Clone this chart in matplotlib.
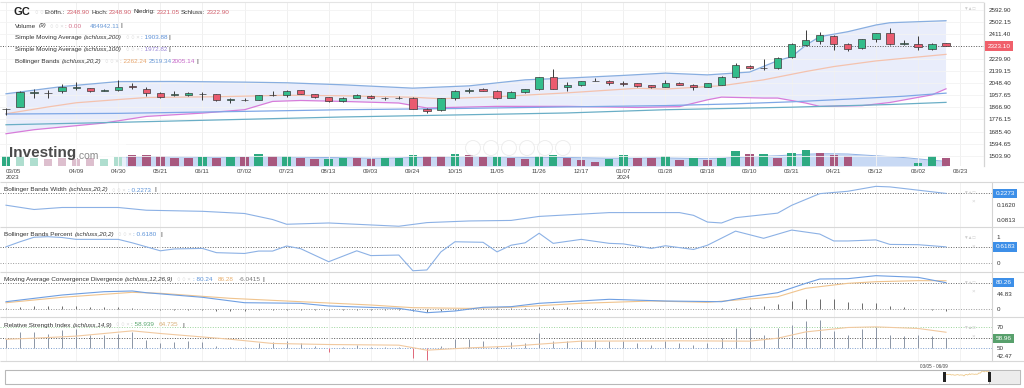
import numpy as np
import matplotlib
matplotlib.use("Agg")
import matplotlib.pyplot as plt
from matplotlib.patches import Rectangle, Circle

plt.rcParams["font.family"] = ["Liberation Sans", "DejaVu Sans"]

# ---- weekly GC candles, 03/05/2023 .. 06/16/2024 ----
opens = [1856, 1870, 1975, 1973, 1987, 2010, 2008, 1992, 1993, 2025,
         2003, 1977, 1960, 1960, 1970, 1965, 1922, 1923, 1925, 1958,
         1960, 1993, 1966, 1942, 1912, 1940, 1955, 1935, 1938, 1940,
         1857, 1845, 1936, 1992, 2005, 1992, 1938, 1980, 2000, 2090,
         2020, 2030, 2062, 2065, 2045, 2045, 2030, 2020, 2050, 2035,
         2022, 2035, 2090, 2178, 2158, 2160, 2240, 2335, 2365, 2400,
         2340, 2310, 2375, 2425, 2340, 2340, 2305, 2348.9]
closes = [1858, 1978, 1978, 1973, 2022, 2015, 1985, 1995, 2020, 2020,
          1975, 1942, 1966, 1975, 1968, 1920, 1928, 1925, 1958, 1962,
          1990, 1970, 1945, 1912, 1938, 1962, 1938, 1938, 1940, 1858,
          1840, 1935, 1990, 1995, 1992, 1935, 1980, 2000, 2090, 2005,
          2030, 2060, 2065, 2045, 2042, 2025, 2015, 2050, 2035, 2020,
          2045, 2090, 2180, 2160, 2160, 2235, 2340, 2372, 2408, 2340,
          2305, 2375, 2420, 2338, 2345, 2318, 2342, 2322.9]
highs = [1862, 1985, 2000, 1993, 2042, 2055, 2012, 2005, 2068, 2045,
         2018, 1982, 1985, 1980, 1982, 1968, 1935, 1935, 1962, 1985,
         1995, 1997, 1968, 1945, 1945, 1965, 1958, 1945, 1952, 1942,
         1860, 1940, 1995, 2010, 2012, 1995, 1985, 2005, 2095, 2150,
         2055, 2065, 2085, 2070, 2065, 2050, 2035, 2068, 2055, 2040,
         2050, 2098, 2195, 2185, 2225, 2245, 2345, 2440, 2430, 2405,
         2345, 2380, 2425, 2455, 2370, 2400, 2345, 2348.9]
lows = [1812, 1868, 1940, 1938, 1975, 1995, 1980, 1985, 1985, 2005,
        1955, 1935, 1950, 1955, 1925, 1915, 1902, 1912, 1922, 1955,
        1945, 1965, 1940, 1905, 1908, 1935, 1932, 1925, 1930, 1855,
        1825, 1840, 1920, 1975, 1988, 1930, 1935, 1975, 1995, 2000,
        1985, 2025, 2060, 2035, 2025, 2015, 2010, 2015, 2030, 1995,
        2015, 2030, 2085, 2150, 2148, 2155, 2235, 2325, 2340, 2295,
        2285, 2305, 2355, 2335, 2335, 2295, 2295, 2321.05]

# volume in thousands (weeks 05/05-05/26 have no bar)
volume = [450, 450, 360, 315, 360, 315, 360, 315, 405, 480,
          480, 450, 375, 375, 420, 375, 420, 420, 525, 450,
          450, 375, 330, 330, 345, 375, 300, 375, 375, 480,
          450, 450, 525, 480, 420, 420, 375, 330, 450, 480,
          375, 270, 180, 300, 480, 375, 375, 450, 270, 375,
          270, 375, 675, 525, 525, 345, 570, 705, 600, 480,
          450, 0, 0, 0, 0, 150, 450, 375]
# bar colour (1 = green, 0 = purple)
volume_up = [1, 1, 1, 0, 0, 0, 0, 1, 1, 0,
             0, 0, 0, 0, 1, 0, 1, 0, 1, 0,
             1, 0, 0, 1, 1, 0, 0, 1, 1, 1,
             0, 0, 1, 0, 0, 1, 0, 0, 1, 1,
             0, 0, 0, 1, 1, 0, 0, 1, 0, 1,
             0, 1, 1, 0, 1, 0, 1, 1, 0, 0,
             0, 1, 1, 1, 1, 1, 1, 0]
vol_sma_start = 8
vol_sma = [380, 400, 410, 420, 420, 410, 400, 400, 400, 410,
           420, 420, 410, 400, 390, 380, 370, 360, 350, 350,
           360, 380, 390, 400, 410, 420, 420, 410, 400, 390,
           390, 390, 380, 370, 360, 350, 350, 350, 360, 360,
           350, 340, 340, 350, 380, 410, 440, 460, 500, 530,
           550, 550, 540, 500, 460, 420, 380, 320, 260, 210]

# overlays (week index, value)
bb_up_idx = [0, 4, 8, 12, 17, 20, 24, 29, 33, 37, 40, 44, 47, 50, 53, 55, 56, 57, 58, 60, 62, 63, 67]
bb_up = [1968, 2022, 2059, 2060, 2055, 2050, 2035, 2010, 2027, 2072, 2085, 2105, 2122, 2109,
         2130, 2215, 2245, 2330, 2394, 2431, 2481, 2498, 2513]
bb_low_idx = [0, 2, 7, 10, 14, 17, 19, 21, 24, 28, 30, 35, 40, 45, 48, 50, 51, 54, 55, 57, 58, 61, 63, 66, 67]
bb_low = [1670, 1700, 1750, 1799, 1824, 1849, 1911, 1918, 1911, 1899, 1862, 1874, 1874, 1866,
          1872, 1923, 1943, 1936, 1936, 1899, 1874, 1879, 1903, 1960, 2005]
bb_mid_idx = [0, 3, 5, 8, 10, 15, 20, 24, 29, 31, 35, 40, 45, 47, 51, 54, 57, 59, 62, 67]
bb_mid = [1819, 1870, 1901, 1925, 1940, 1946, 1957, 1953, 1942, 1931, 1946, 1975, 2009, 2003,
          2028, 2072, 2134, 2171, 2213, 2262]
sma100_idx = [0, 8, 16, 24, 32, 40, 47, 52, 56, 60, 64, 67]
sma100 = [1817, 1822, 1835, 1849, 1858, 1870, 1880, 1893, 1908, 1928, 1950, 1972.8]
sma200_idx = [0, 8, 16, 24, 32, 40, 47, 56, 63, 67]
sma200 = [1737, 1755, 1775, 1795, 1810, 1825, 1849, 1868, 1888, 1903.9]

bbw_idx = [0, 2, 4, 8, 10, 14, 17, 19, 20, 23, 28, 30, 33, 36, 38, 43, 48, 49, 50, 51, 52, 55,
           56, 58, 60, 62, 63, 67]
bbw = [0.1625, 0.139, 0.150, 0.150, 0.135, 0.129, 0.117, 0.084, 0.058, 0.065, 0.047, 0.067,
       0.076, 0.079, 0.101, 0.122, 0.122, 0.107, 0.070, 0.065, 0.094, 0.119, 0.162, 0.226,
       0.239, 0.266, 0.263, 0.2273]

bbp_idx = [0, 1, 2, 3, 4, 5, 6, 8, 9, 11, 12, 14, 15, 17, 18, 19, 20, 21, 23, 25,
           26, 28, 29, 30, 31, 32, 34, 35, 36, 37, 38, 39, 41, 43, 44, 46, 47, 49, 50, 52,
           54, 56, 58, 59, 60, 62, 63, 65, 66, 67]
bbp = [0.62, 0.81, 0.98, 1.0, 0.97, 0.90, 0.90, 0.90, 0.77, 0.47,
       0.54, 0.56, 0.40, 0.37, 0.46, 0.46, 0.65, 0.55, 0.06, 0.47,
       0.29, 0.31, -0.28, -0.25, 0.43, 0.81, 0.79, 0.43, 0.68, 0.77,
       1.13, 0.75, 0.90, 0.75, 0.73, 0.56, 0.66, 0.52, 0.68, 1.21,
       0.94, 1.25, 1.10, 0.84, 0.84, 0.88, 0.71, 0.70, 0.66, 0.618]

macd_idx = [0, 4, 7, 9, 10, 14, 17, 21, 23, 28, 30, 32, 34, 36, 38, 43, 47, 51, 53, 55, 57, 58,
            60, 62, 65, 67]
macd = [22.3, 42.7, 52.8, 55.0, 49.7, 35.7, 19.2, 17.4, 9.2, 2.0, -11.3, -6.1, 5.2, 7.1, 17.4,
        29.6, 24.4, 22.3, 37.5, 49.7, 78.3, 91.5, 92.5, 101.7, 96.6, 80.24]
signal_idx = [0, 4, 9, 11, 16, 21, 26, 29, 33, 36, 41, 46, 50, 55, 57, 60, 62, 65, 67]
signal = [19.2, 35.7, 50.9, 47.9, 32.6, 22.3, 12.2, 4.0, 2.0, 5.2, 17.4, 24.4, 20.4, 37.5,
          63.1, 78.3, 83.3, 86.5, 86.28]
macd_hist = [3, 6, 8, 8, 9, 8, 6, 5, 5, 3, 1, -2, -3, -4, -4, -5, -5, -5, -4, -3,
             -2, -2, -3, -4, -4, -3, -3, -3, -3, -6, -9, -7, -3, 1, 3, 3, 2, 3, 5, 6,
             5, 4, 4, 3, 2, 1, 1, 0, -1, -1, 1, 2, 4, 5, 8, 15, 23, 31, 31, 30,
             20, 18, 18, 8, 5, 1, -2, -6]

rsi = [58, 65, 65, 63, 67, 68, 62, 62, 63, 65,
       57, 54, 55, 56, 55, 52, 51, 51, 54.5, 55,
       56, 54.5, 52, 46, 51, 53, 51, 50.5, 51, 39.7,
       38, 52, 58.7, 58.7, 56, 52, 55, 54.7, 64, 56,
       56, 57.6, 57.6, 56, 56, 54.7, 53, 56, 54.7, 53,
       54.7, 59, 68.3, 68.3, 62, 68.3, 72, 75, 76, 66,
       62, 68, 70, 62, 61, 62, 61, 58.96]
rsi_ma_idx = [0, 2, 5, 9, 11, 16, 19, 23, 28, 30, 33, 36, 41, 48, 53, 55, 57, 60, 62, 65, 67]
rsi_ma = [58, 59, 61, 66, 63.5, 58, 54, 53, 52.4, 47.6, 49.8, 51.4, 56.2, 56.5, 56.2, 59, 65,
          69.2, 69.8, 68.3, 64.7]

date_idx = [0, 5] + list(range(8, 69, 3))
date_labels = ["03/05\n2023", "04/09", "04/30", "05/21", "06/11", "07/02", "07/23", "08/13",
               "09/03", "09/24", "10/15", "11/05", "11/26", "12/17", "01/07\n2024", "01/28",
               "02/18", "03/10", "03/31", "04/21", "05/12", "06/02", "06/23"]
price_ticks = [2592.90, 2502.15, 2411.40, 2229.90, 2139.15, 2048.40, 1957.65, 1866.90,
               1776.15, 1685.40, 1594.65, 1503.90]
last_price = 2323.10

W, H = 1024, 388
STEP = 14.03   # px per week
X0 = 6         # px of first candle

GREEN, RED = "#33bd8b", "#ea5b6f"
VGREEN, VRED = "#2eaa82", "#a8587f"
FS = 4.6


def px_rect(x0, y0, x1, y1):
    return [x0 / W, 1 - y1 / H, (x1 - x0) / W, (y1 - y0) / H]


fig = plt.figure(figsize=(W / 100, H / 100), dpi=100)


def panel(x1, y0, y1, ylim, face="white"):
    ax = fig.add_axes(px_rect(0, y0, x1, y1), facecolor=face)
    ax.set_xlim(-X0 / STEP, (x1 - X0) / STEP)
    ax.set_ylim(*ylim)
    for s in ax.spines.values():
        s.set_visible(False)
    ax.spines["right"].set_visible(True)
    ax.spines["right"].set_color("#d4d4d4")
    ax.spines["right"].set_linewidth(0.8)
    ax.set_xticks(date_idx)
    ax.tick_params(axis="x", length=0, labelbottom=False)
    ax.grid(axis="x", color="#f0f0f0", lw=0.6)
    ax.yaxis.tick_right()
    ax.tick_params(axis="y", length=0, pad=3.5, labelsize=4.5, labelcolor="#333")
    return ax


def dotted(ax, y, color="#666"):
    ax.axhline(y, color=color, lw=0.7, ls=(0, (1, 1.6)), zorder=1)


def value_box(ax, y, s, fc):
    ax.annotate(s, xy=(1, y), xycoords=("axes fraction", "data"), xytext=(2.5, 0),
                textcoords="offset points", ha="left", va="center", fontsize=4.6,
                color="white", bbox=dict(boxstyle="square,pad=0.35", fc=fc, ec="none"),
                annotation_clip=False, zorder=10)


x = np.arange(len(closes))
o, c = np.array(opens), np.array(closes)
up = c >= o

# ---- main price panel (volume behind) ----
ylim_main = (2592.9 - (166 - 10) * 7.459, 2592.9 + 7 * 7.459)
vax = panel(984, 3, 166, (0, 163 * 45))
vax.set_yticks([])
vax.fill_between(np.arange(vol_sma_start, len(closes)), vol_sma, color="#c8d9f4", lw=0, zorder=1)
vax.plot(np.arange(vol_sma_start, len(closes)), vol_sma, color="#8fb1e4", lw=0.7, zorder=1)
vax.bar(x, volume, width=0.6, color=np.where(np.array(volume_up) == 1, VGREEN, VRED), zorder=2)

ax = panel(984, 3, 166, ylim_main, face="none")
ax.set_yticks(price_ticks)
ax.set_yticklabels([f"{t:.2f}" for t in price_ticks])
ax.grid(axis="y", color="#f3f3f3", lw=0.6)
ax.set_xticklabels(date_labels)
ax.tick_params(axis="x", labelbottom=True, labelsize=4.4, labelcolor="#444", pad=2)
ax.get_xticklabels()[0].set_ha("left")

ax.fill(np.r_[bb_up_idx, bb_low_idx[::-1]], np.r_[bb_up, bb_low[::-1]], color="#e9edfb", lw=0, zorder=1)
ax.plot(bb_up_idx, bb_up, color="#88aee0", lw=0.9, zorder=2)
ax.plot(bb_low_idx, bb_low, color="#d77cda", lw=0.9, zorder=2)
ax.plot(bb_mid_idx, bb_mid, color="#f4c2ae", lw=0.9, zorder=2)
ax.plot(sma100_idx, sma100, color="#7ea7e6", lw=0.9, zorder=2)
ax.plot(sma200_idx, sma200, color="#6aaec6", lw=0.9, zorder=2)
dotted(ax, last_price, "#555")

ax.vlines(x, lows, highs, color="#3a3a3a", lw=0.7, zorder=3)
ax.bar(x, np.maximum(np.abs(c - o), 1.0), bottom=np.minimum(o, c), width=0.52,
       color=np.where(up, GREEN, RED), edgecolor="#3a3a3a", lw=0.5, zorder=4)
value_box(ax, last_price, "2323.10", "#f0606b")

# ---- Bollinger Bands Width ----
a1 = panel(992, 182, 227, (0.0429, 0.2899))
a1.set_yticks([0.1620, 0.0813])
a1.set_yticklabels(["0.1620", "0.0813"])
dotted(a1, 0.2273)
a1.plot(bbw_idx, bbw, color="#8cb1e5", lw=0.8)
value_box(a1, 0.2273, "0.2273", "#3d8fe8")

# ---- Bollinger Bands Percent ----
a2 = panel(992, 227, 272, (-0.327, 1.365))
a2.set_yticks([1, 0])
a2.set_yticklabels(["1", "0"])
dotted(a2, 0.618)
dotted(a2, 0, "#9a9a9a")
a2.plot(bbp_idx, bbp, color="#8cb1e5", lw=0.8)
value_box(a2, 0.6183, "0.6183", "#3d8fe8")

# ---- MACD ----
a3 = panel(992, 272, 317, (-24.4, 112.9))
a3.set_yticks([44.83, 0])
a3.set_yticklabels(["44.83", "0"])
dotted(a3, 80.26)
dotted(a3, 0, "#9a9a9a")
a3.vlines(x, 0, macd_hist, color="#6a6a6a", lw=0.7)
a3.plot(signal_idx, signal, color="#f0c48e", lw=0.8)
a3.plot(macd_idx, macd, color="#6f9fe2", lw=0.8)
value_box(a3, 80.26, "80.26", "#3d8fe8")

# ---- RSI ----
a4 = panel(992, 317, 361, (37.3, 79.2))
a4.set_yticks([70, 50, 42.47])
a4.set_yticklabels(["70", "50", "42.47"])
dotted(a4, 70, "#9bd39b")
dotted(a4, 58.96, "#555")
dotted(a4, 50, "#7d9fcf")
r = np.array(rsi)
a4.vlines(x, 50, r, color=np.where(r >= 50, "#8b95a5", "#e06679"), lw=0.7)
a4.plot(rsi_ma_idx, rsi_ma, color="#f1c9a0", lw=0.8)
value_box(a4, 58.96, "58.96", "#58a06c")

# ---- navigator ----
nav = fig.add_axes(px_rect(944, 370, 989, 384), facecolor="#fde3b2")
nav.fill_between(x, closes, 2600, color="white", lw=0)
nav.plot(x, closes, color="#eec98a", lw=0.6)
nav.set_xlim(0, len(closes) - 1)
nav.set_ylim(900, 2520)
nav.axis("off")

# ---- overlay in pixel coordinates ----
ov = fig.add_axes([0, 0, 1, 1], facecolor="none")
ov.set_xlim(0, W)
ov.set_ylim(H, 0)
ov.axis("off")

ov.hlines([182, 227, 272, 317, 361], 0, W, color="#d8d8d8", lw=0.8)
ov.hlines([2], 0, 984, color="#e4e4e4", lw=0.8)
ov.add_patch(Rectangle((5, 370), 1015, 14, fc="none", ec="#b8b8b8", lw=0.8))
ov.add_patch(Rectangle((989, 370), 31, 14, fc="#ececec", ec="#b8b8b8", lw=0.6))
for hx in (942.5, 987.5):
    ov.add_patch(Rectangle((hx, 372), 3, 10, fc="#222", ec="none"))
ov.text(934, 366.5, "03/05 - 06/09", fontsize=3.4, color="#444", ha="center", va="center")

# faded volume under logo
ov.add_patch(Rectangle((12, 140), 114, 27, fc="white", ec="none", alpha=0.62))
logo = ov.text(9, 153, "Investing", fontsize=11, weight="bold", color="#4b4b4b",
               ha="left", va="center")
ov.annotate(".com", xy=(1, 0.32), xycoords=logo, xytext=(0, 0), textcoords="offset points",
            fontsize=7.5, color="#8a8a8a", ha="left", va="center")
for cx in (473, 491, 509, 527, 545, 563):
    ov.add_patch(Circle((cx, 148), 7.5, fc="white", ec="#e6e6e6", lw=0.7, alpha=0.7))

ICON = dict(color="#d6d6d6", fontsize=4.2, gap=3)


def chain(x0, y, pieces):
    prev = None
    for s, kw in pieces:
        st = dict(fontsize=FS, color="#333")
        st.update(kw)
        gap = st.pop("gap", 1.0)
        if prev is None:
            prev = ov.text(x0, y, s, ha="left", va="center", **st)
        else:
            prev = ov.annotate(s, xy=(1, 0.5), xycoords=prev, xytext=(gap, 0),
                               textcoords="offset points", ha="left", va="center", **st)
    return prev


PR = dict(color="#d2606d")
IT = dict(style="italic", gap=1.5)
chain(14, 12, [("GC", dict(fontsize=8, weight="bold", color="#222")), ("\u25cb \u25cb", ICON),
               ("Eröffn.:", {}), ("2348.90", PR), ("Hoch:", {}), ("2348.90", PR),
               ("Niedrig:", {}), ("2321.05", PR), ("Schluss:", {}), ("2322.90", PR)])
chain(15, 26, [("Volume", {}), ("(9)", IT), ("\u25cb \u25cb \u00d7", ICON),
               (": 0.00", dict(color="#d4708a")), ("484942.11", dict(color="#6b9ad6", gap=6)),
               ("|", {})])
chain(15, 37.5, [("Simple Moving Average", {}), ("(schluss,200)", IT),
                 ("\u25cb \u25cb \u00d7", ICON), (": 1903.88", dict(color="#5b8fd6")), ("|", {})])
chain(15, 49.5, [("Simple Moving Average", {}), ("(schluss,100)", IT),
                 ("\u25cb \u25cb \u00d7", ICON), (": 1972.82", dict(color="#9a86d8")), ("|", {})])
chain(15, 61.5, [("Bollinger Bands", {}), ("(schluss,20,2)", IT), ("\u25cb \u25cb \u00d7", ICON),
                 (": 2262.24", dict(color="#e6a56c")), ("2519.34", dict(color="#6b9ad6")),
                 ("2005.14", dict(color="#c668c8", gap=0)), ("|", {})])

BL = dict(color="#5d93d8")
chain(4, 190, [("Bollinger Bands Width", {}), ("(schluss,20,2)", IT),
               ("\u25cb \u25cb \u00d7", ICON), (": 0.2273", BL), ("|", dict(gap=3))])
chain(4, 234.5, [("Bollinger Bands Percent", {}), ("(schluss,20,2)", IT),
                 ("\u25cb \u25cb \u00d7", ICON), (": 0.6180", BL), ("|", dict(gap=3))])
chain(4, 279.5, [("Moving Average Convergence Divergence", {}), ("(schluss,12,26,9)", IT),
                 ("\u25cb \u25cb \u00d7", ICON), (": 80.24", BL),
                 ("86.28", dict(color="#e8b070", gap=4)), ("-6.0415", dict(color="#777", gap=4)),
                 ("|", {})])
chain(4, 325, [("Relative Strength Index", {}), ("(schluss,14,9)", IT),
               ("\u25cb \u25cb \u00d7", ICON), (": 58.939", dict(color="#5aa66e")),
               ("64.735", dict(color="#d9b07a", gap=3)), ("|", dict(gap=3))])

# panel corner icons
for iy in (8, 192, 237, 282, 327):
    ov.text(975, iy, "\u25bc\u25b2\u25a1", fontsize=3.4, color="#cfcfcf", ha="right", va="center")
for iy in (201, 246, 291, 336):
    ov.text(973, iy, "\u00d7", fontsize=4.5, color="#d0d0d0", ha="center", va="center")

fig.savefig("out.png", dpi=100)
